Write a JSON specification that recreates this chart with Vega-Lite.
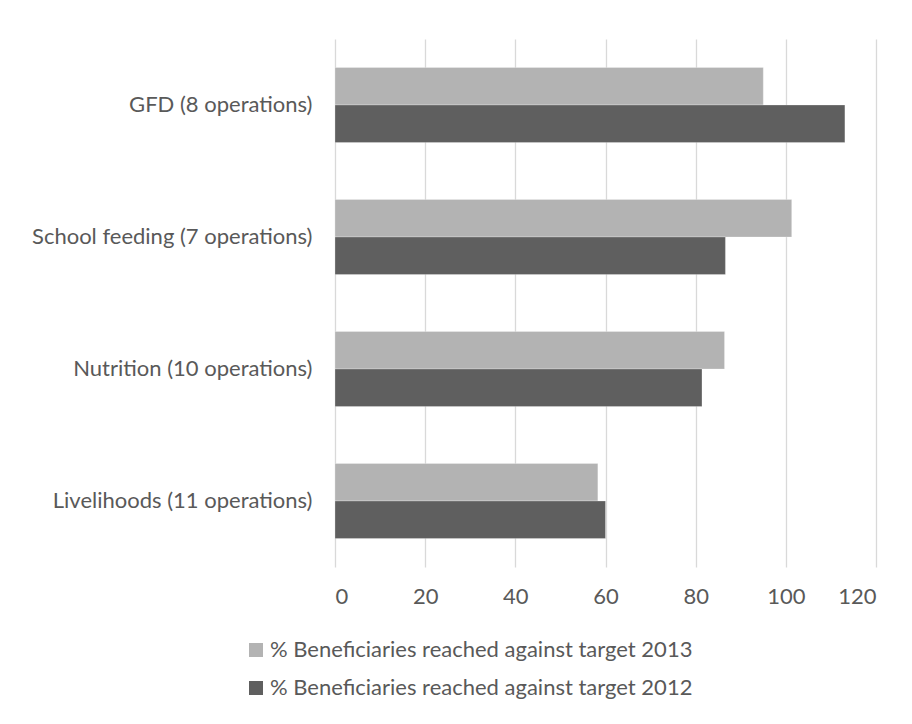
{
  "$schema": "https://vega.github.io/schema/vega-lite/v6.json",
  "width": 541,
  "height": 528,
  "autosize": {"type": "none"},
  "padding": {"left": 335, "top": 39, "right": 36, "bottom": 157},
  "background": "white",
  "data": {
    "values": [
      {"category": "GFD (8 operations)", "series": "% Beneficiaries reached against target 2013", "value": 95.0},
      {"category": "GFD (8 operations)", "series": "% Beneficiaries reached against target 2012", "value": 113.1},
      {"category": "School feeding (7 operations)", "series": "% Beneficiaries reached against target 2013", "value": 101.3},
      {"category": "School feeding (7 operations)", "series": "% Beneficiaries reached against target 2012", "value": 86.6},
      {"category": "Nutrition (10 operations)", "series": "% Beneficiaries reached against target 2013", "value": 86.4},
      {"category": "Nutrition (10 operations)", "series": "% Beneficiaries reached against target 2012", "value": 81.4},
      {"category": "Livelihoods (11 operations)", "series": "% Beneficiaries reached against target 2013", "value": 58.3},
      {"category": "Livelihoods (11 operations)", "series": "% Beneficiaries reached against target 2012", "value": 60.0}
    ]
  },
  "mark": {"type": "bar", "stroke": "white", "strokeOpacity": 0.25, "strokeWidth": 1},
  "encoding": {
    "y": {
      "field": "category",
      "type": "nominal",
      "sort": ["GFD (8 operations)", "School feeding (7 operations)", "Nutrition (10 operations)", "Livelihoods (11 operations)"],
      "scale": {"paddingInner": 0.432, "paddingOuter": 0.216},
      "axis": {"title": null, "domain": false, "ticks": false, "labelPadding": 23, "labelFontSize": 22, "labelColor": "#595959", "labelFont": "Lato", "labelLimit": 400}
    },
    "yOffset": {
      "field": "series",
      "type": "nominal",
      "sort": ["% Beneficiaries reached against target 2013", "% Beneficiaries reached against target 2012"],
      "scale": {"paddingInner": 0, "paddingOuter": 0}
    },
    "x": {
      "field": "value",
      "type": "quantitative",
      "scale": {"domain": [0, 120], "nice": false},
      "axis": {"title": null, "values": [0, 20, 40, 60, 80, 100, 120], "domain": false, "ticks": false, "grid": true, "gridColor": "#d9d9d9", "gridWidth": 1.3, "labelPadding": 19, "labelFontSize": 22, "labelColor": "#595959", "labelFont": "Lato"}
    },
    "color": {
      "field": "series",
      "type": "nominal",
      "sort": ["% Beneficiaries reached against target 2013", "% Beneficiaries reached against target 2012"],
      "scale": {"range": ["#b3b3b3", "#5f5f5f"]},
      "legend": {
        "title": null,
        "orient": "none",
        "legendX": -90,
        "legendY": 600,
        "direction": "vertical",
        "symbolType": "square",
        "symbolSize": 196,
        "symbolStrokeWidth": 0,
        "symbolOpacity": 1,
        "labelFontSize": 22,
        "labelFont": "Lato",
        "labelColor": "#595959",
        "labelOffset": 3,
        "labelLimit": 600,
        "rowPadding": 16,
        "padding": 0
      }
    }
  },
  "config": {"view": {"stroke": null}}
}
